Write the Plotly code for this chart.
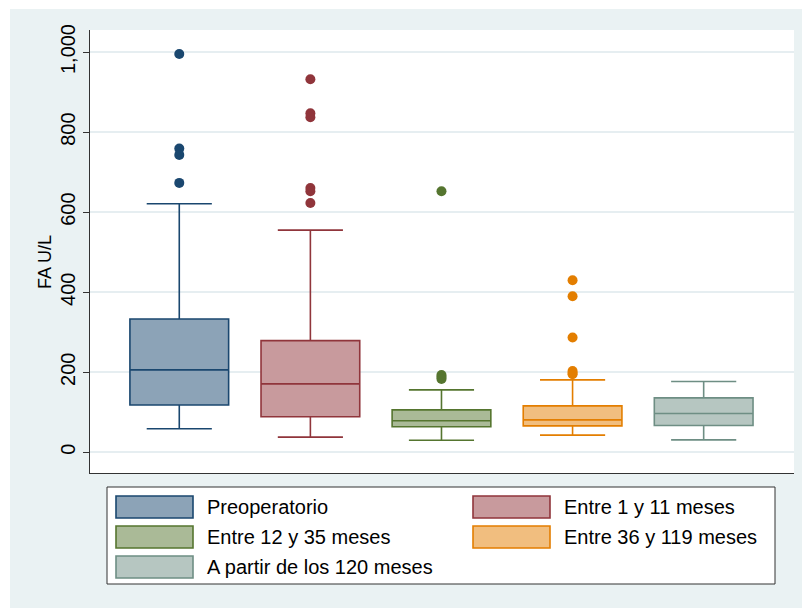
import plotly.graph_objects as go

# Group labels (legend order) and box-plot summary statistics in U/L
groups = ["Preoperatorio", "Entre 1 y 11 meses", "Entre 12 y 35 meses",
          "Entre 36 y 119 meses", "A partir de los 120 meses"]
lower_whisker = [59, 38, 30, 43, 31]
q1_values = [118, 89, 64, 66, 67]
medians = [206, 171, 79, 81, 97]
q3_values = [333, 279, 106, 116, 136]
upper_whisker = [621, 555, 156, 181, 177]

# Observations beyond the whiskers, one list per group
outliers = [
    [995, 759, 743, 673],
    [932, 847, 837, 660, 652, 623],
    [652, 193, 188, 183],
    [430, 390, 287, 203, 198, 195],
    [],
]

line_colors = ["#1a476f", "#90353b", "#55752f", "#e37e00", "#6e8e84"]
fill_colors = ["#8ca3b7", "#c89a9d", "#aaba97", "#f1be7f", "#b6c6c1"]

y_ticks = [0, 200, 400, 600, 800, 1000]
y_tick_text = ["0", "200", "400", "600", "800", "1,000"]
y_title = "FA U/L"

FONT = "Liberation Sans, Arial, sans-serif"
W, H = 802, 608
ML, MR, MT, MB = 90, 8, 30, 135
PW, PH = W - ML - MR, H - MT - MB


def px_x(p):
    return (p - ML) / PW


def px_y(p):
    return (H - MB - p) / PH


fig = go.Figure()

for i, name in enumerate(groups):
    pos = i + 1
    fig.add_trace(go.Box(
        x=[pos], q1=[q1_values[i]], median=[medians[i]], q3=[q3_values[i]],
        lowerfence=[lower_whisker[i]], upperfence=[upper_whisker[i]],
        name=name, boxpoints=False, width=0.753, whiskerwidth=0.66,
        fillcolor=fill_colors[i], line=dict(color=line_colors[i], width=1.6),
        showlegend=False, hoverinfo="skip",
    ))
    if outliers[i]:
        fig.add_trace(go.Scatter(
            x=[pos] * len(outliers[i]), y=outliers[i], mode="markers",
            marker=dict(color=line_colors[i], size=10, line=dict(width=0)),
            showlegend=False, hoverinfo="skip",
        ))

shapes = []
annotations = []

# white outer frame on the left and top edges
shapes.append(dict(type="rect", xref="paper", yref="paper", layer="above",
                   x0=px_x(0), x1=px_x(10), y0=px_y(H), y1=px_y(0),
                   fillcolor="white", line=dict(width=0)))
shapes.append(dict(type="rect", xref="paper", yref="paper", layer="above",
                   x0=px_x(0), x1=px_x(W), y0=px_y(9), y1=px_y(0),
                   fillcolor="white", line=dict(width=0)))

# y-axis title
annotations.append(dict(xref="paper", yref="paper", x=px_x(45), y=px_y(262),
                        text=y_title, textangle=-90, showarrow=False,
                        xanchor="center", yanchor="middle",
                        font=dict(family=FONT, size=18, color="black")))

# legend frame
shapes.append(dict(type="rect", xref="paper", yref="paper",
                   x0=px_x(107), x1=px_x(775), y0=px_y(584), y1=px_y(487),
                   fillcolor="white", line=dict(color="#333333", width=1)))

swatch_x = [116, 473]
text_x = [205, 562]
row_y = [507, 537, 567]
for i, name in enumerate(groups):
    col, row = i % 2, i // 2
    cy = row_y[row]
    shapes.append(dict(type="rect", xref="paper", yref="paper",
                       x0=px_x(swatch_x[col]), x1=px_x(swatch_x[col] + 77),
                       y0=px_y(cy + 11), y1=px_y(cy - 11),
                       fillcolor=fill_colors[i],
                       line=dict(color=line_colors[i], width=1.6)))
    annotations.append(dict(xref="paper", yref="paper", x=px_x(text_x[col]),
                            y=px_y(cy), text=name, showarrow=False,
                            xanchor="left", yanchor="middle",
                            font=dict(family=FONT, size=20, color="black")))

fig.update_layout(
    width=W, height=H,
    margin=dict(l=ML, r=MR, t=MT, b=MB, pad=0),
    paper_bgcolor="#eaf2f3", plot_bgcolor="white",
    font=dict(family=FONT, color="black"),
    shapes=shapes, annotations=annotations,
    xaxis=dict(range=[0.319, 5.689], showticklabels=False, ticks="",
               showgrid=False, zeroline=False, showline=True,
               linecolor="#333333", linewidth=1),
    yaxis=dict(range=[-51.7, 1055], tickvals=y_ticks, ticktext=y_tick_text,
               tickangle=-90, ticks="outside", ticklen=6, tickcolor="#333333",
               tickfont=dict(family=FONT, size=20),
               showgrid=True, gridcolor="#e6eef1", gridwidth=1.5,
               zeroline=False, showline=True, linecolor="#333333", linewidth=1),
)

fig.write_html("out.html")
